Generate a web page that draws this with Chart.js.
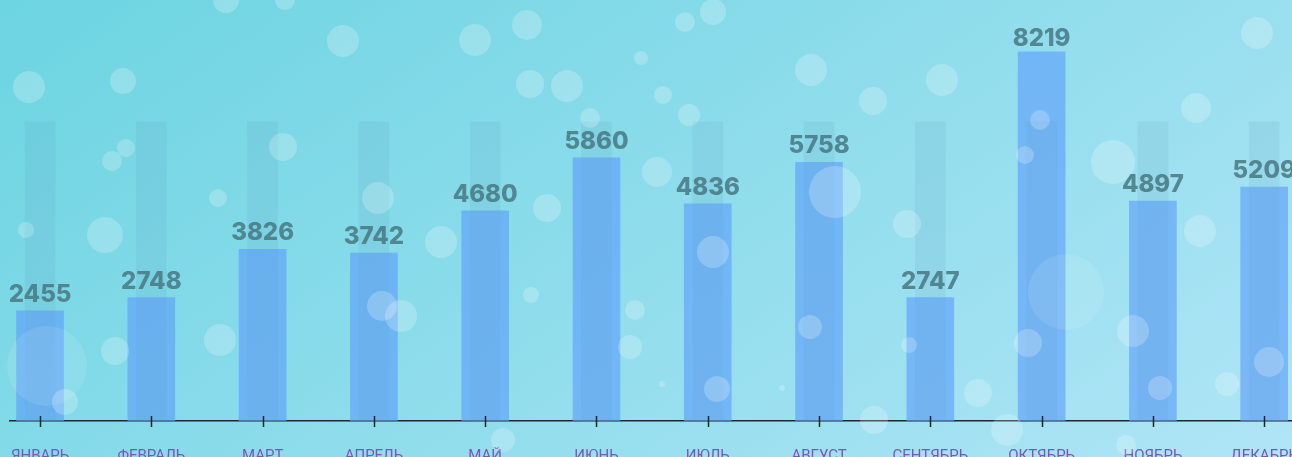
<!DOCTYPE html>
<html>
<head>
<meta charset="utf-8">
<script src="https://cdn.jsdelivr.net/npm/chart.js@4"></script>
<style>
html,body{margin:0;padding:0;width:1292px;height:457px;overflow:hidden}
body{background:linear-gradient(145deg,#6cd4e1 0%,#b0e5f6 100%);position:relative}
#wrap{position:absolute;left:0;top:0;width:1292px;height:457px}
#bub{position:absolute;left:0;top:0;width:1292px;height:457px;pointer-events:none}
.b{position:absolute;border-radius:50%;background:rgba(255,255,255,.22)}
</style>
</head>
<body>
<div id="wrap"><canvas id="c" width="1292" height="457"></canvas></div>
<div id="bub"></div>
<script>
// data
const months=["Январь","Февраль","Март","Апрель","Май","Июнь","Июль","Август","Сентябрь","Октябрь","Ноябрь","Декабрь"];
const sales=[2455,2748,3826,3742,4680,5860,4836,5758,2747,8219,4897,5209];
const backdrop=[6660,6660,6660,6660,6660,6660,6660,6660,6660,6660,6660,6660];

// decorative bubbles (x,y,r)
const bubbles=[[29,87,16],[123,81,13],[343,41,16],[475,40,16],[527,25,15],[685,22,10],[713,12,13],[811,70,16],[942,80,16],[1257,33,16],
[873,101,14],[1196,108,15],[567,86,16],[530,84,14],[663,95,9],[641,58,7],[689,115,11],[590,118,10],[112,161,10],[126,148,9],
[218,198,9],[105,235,18],[283,147,14],[378,198,16],[441,242,16],[547,208,14],[657,172,15],[835,192,26],[907,224,14],[1200,231,16],
[1113,162,22],[47,366,40],[65,402,13],[115,351,14],[220,340,16],[401,316,16],[382,306,15],[531,295,8],[635,310,10],[630,347,12],
[713,252,16],[717,389,13],[810,327,12],[978,393,14],[909,345,8],[1028,343,14],[1133,331,16],[1160,388,12],[1227,384,12],[1269,362,15],
[1007,430,16],[874,420,14],[503,440,12],[1126,445,10],[662,384,3],[782,388,3],[226,0,13],[285,0,10],[26,230,8],[1066,292,38],[1040,120,10],[1025,155,9]];
const bub=document.getElementById("bub");
bubbles.forEach(([x,y,r])=>{const d=document.createElement("div");d.className="b";d.style.cssText=`left:${x-r}px;top:${y-r}px;width:${2*r}px;height:${2*r}px;${r>30?"background:rgba(255,255,255,.1)":""}`;bub.appendChild(d)});

// value above each bar, kept inside the top edge
const valueLabels={id:"valueLabels",afterDatasetsDraw(ch){
  const ctx=ch.ctx,meta=ch.getDatasetMeta(0);
  ctx.save();ctx.font="800 24px Inter";ctx.fillStyle="rgba(70,120,130,0.85)";ctx.textAlign="center";ctx.textBaseline="alphabetic";
  meta.data.forEach((b,i)=>ctx.fillText(sales[i],b.x,Math.max(46,b.y-9)));
  ctx.restore();
}};
const crossTicks={id:"crossTicks",afterDraw(ch){
  const ctx=ch.ctx,sx=ch.scales.x,y=ch.chartArea.bottom;
  ctx.save();ctx.strokeStyle="#1a2a30";ctx.lineWidth=1.5;ctx.beginPath();
  months.forEach((m,i)=>{const x=Math.round(sx.getPixelForValue(i))+.5;ctx.moveTo(x,y-5);ctx.lineTo(x,y+6)});
  ctx.stroke();ctx.restore();
}};

new Chart(document.getElementById("c"),{type:"bar",
  data:{datasets:[
    {data:sales.map((v,i)=>({x:i,y:v})),backgroundColor:"rgba(95,160,250,0.65)",barThickness:47,order:1},
    {data:backdrop.map((v,i)=>({x:i,y:v})),backgroundColor:"rgba(80,150,180,0.12)",barThickness:30,order:0}
  ]},
  options:{responsive:false,animation:false,events:[],grouped:false,
    layout:{padding:{left:10,right:0,top:0,bottom:0}},
    plugins:{legend:{display:false},tooltip:{enabled:false}},
    scales:{
      x:{type:"linear",offset:false,min:-0.27,max:11.25,
        afterFit:s=>{s.height=36;s.paddingLeft=0;s.paddingRight=0},
        grid:{display:false,drawTicks:false,offset:false},
        border:{display:true,color:"#1a2a30",width:1.5},
        ticks:{stepSize:1,includeBounds:false,autoSkip:false,maxRotation:0,padding:26,color:"#7b56b6",
          font:{family:"Roboto",size:15},callback:v=>Number.isInteger(v)&&months[v]?months[v].toUpperCase():""}},
      y:{display:false,min:0,max:9376}
    }},
  plugins:[valueLabels,crossTicks]});
</script>
</body>
</html>
